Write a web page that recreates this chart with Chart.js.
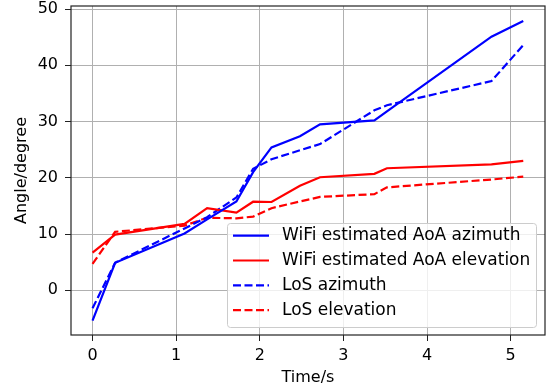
<!DOCTYPE html>
<html>
<head>
<meta charset="utf-8">
<script src="https://cdn.jsdelivr.net/npm/chart.js@4.4.1/dist/chart.umd.min.js"></script>
<style>
  html, body { margin: 0; padding: 0; background: #fff; }
  #chart { display: block; }
</style>
</head>
<body>
<canvas id="chart" width="553" height="392"></canvas>
<script>
// Datos
const timeS = [0, 0.27, 1.1, 1.37, 1.72, 1.92, 2.14, 2.48, 2.72, 3.37, 3.52, 4.77, 5.15];
const wifiAzimuth = [-5.4, 4.9, 10.1, 12.6, 15.8, 21.0, 25.4, 27.4, 29.5, 30.2, 31.8, 45.1, 47.9];
const wifiElevation = [6.7, 9.9, 11.8, 14.6, 13.8, 15.75, 15.7, 18.6, 20.1, 20.7, 21.7, 22.4, 23.0];
const losAzimuth = [-3.2, 4.9, 11.0, 13.0, 16.5, 21.6, 23.3, 24.9, 26.0, 32.0, 32.9, 37.2, 43.6];
const losElevation = [4.7, 10.4, 11.5, 12.9, 12.8, 13.1, 14.6, 15.8, 16.6, 17.1, 18.3, 19.7, 20.2];
const xTicks = [0, 1, 2, 3, 4, 5];
const yTicks = [0, 10, 20, 30, 40, 50];

const FONT = 'DejaVu Sans';

function toPoints(values) {
    return timeS.map((t, i) => ({ x: t, y: values[i] }));
}

// Quitar el relleno automático de las escalas para fijar el área del gráfico
function fixPadding(s) {
    s.paddingTop = 0;
    s.paddingBottom = 0;
    s.paddingLeft = 0;
    s.paddingRight = 0;
}

// Marco completo + leyenda dentro del área
const framePlugin = {
    id: 'frame',
    afterDatasetsDraw(chart) {
        const { ctx, chartArea: a } = chart;
        ctx.save();
        ctx.strokeStyle = '#222';
        ctx.lineWidth = 1.2;
        ctx.strokeRect(a.left, a.top, a.right - a.left, a.bottom - a.top);

        // leyenda
        const w = 309, h = 104;
        const x0 = a.right - 9 - w;
        const y0 = a.bottom - 8 - h;
        ctx.beginPath();
        ctx.roundRect(x0 + 0.5, y0 + 0.5, w, h, 3);
        ctx.fillStyle = 'rgba(255,255,255,0.8)';
        ctx.fill();
        ctx.strokeStyle = '#cccccc';
        ctx.lineWidth = 1;
        ctx.stroke();

        ctx.font = '17px "' + FONT + '"';
        ctx.textBaseline = 'middle';
        ctx.textAlign = 'left';
        chart.data.datasets.forEach((ds, i) => {
            const cy = y0 + 12.7 + i * 24.8;
            ctx.beginPath();
            ctx.setLineDash(ds.borderDash || []);
            ctx.strokeStyle = ds.borderColor;
            ctx.lineWidth = 2.2;
            ctx.moveTo(x0 + 6, cy);
            ctx.lineTo(x0 + 42, cy);
            ctx.stroke();
            ctx.setLineDash([]);
            ctx.fillStyle = '#000';
            ctx.fillText(ds.label, x0 + 55, cy);
        });
        ctx.restore();
    }
};

const chart = new Chart(document.getElementById('chart').getContext('2d'), {
    type: 'line',
    data: {
        datasets: [
            { label: 'WiFi estimated AoA azimuth', data: toPoints(wifiAzimuth), borderColor: '#0000ff' },
            { label: 'WiFi estimated AoA elevation', data: toPoints(wifiElevation), borderColor: '#ff0000' },
            { label: 'LoS azimuth', data: toPoints(losAzimuth), borderColor: '#0000ff', borderDash: [8, 3.5] },
            { label: 'LoS elevation', data: toPoints(losElevation), borderColor: '#ff0000', borderDash: [8, 3.5] }
        ]
    },
    options: {
        responsive: false,
        animation: false,
        devicePixelRatio: 1,
        layout: { padding: { top: 6, right: 8, left: 0, bottom: 0 } },
        elements: {
            line: { borderWidth: 2.2, tension: 0, fill: false },
            point: { radius: 0 }
        },
        plugins: {
            legend: { display: false },
            tooltip: { enabled: false }
        },
        scales: {
            x: {
                type: 'linear',
                min: -0.2575,
                max: 5.41,
                afterBuildTicks: (s) => { s.ticks = xTicks.map(v => ({ value: v })); },
                afterFit: (s) => { s.height = 57; fixPadding(s); },
                grid: { color: '#b0b0b0', lineWidth: 1, tickLength: 6, tickColor: '#222' },
                border: { display: false },
                ticks: { font: { family: FONT, size: 16 }, color: '#000', padding: 5, maxRotation: 0 },
                title: { display: true, text: 'Time/s', font: { family: FONT, size: 16 }, color: '#000', padding: { top: 0, bottom: 5 } }
            },
            y: {
                min: -7.95,
                max: 50.55,
                afterBuildTicks: (s) => { s.ticks = yTicks.map(v => ({ value: v })); },
                afterFit: (s) => { s.width = 71; fixPadding(s); },
                grid: { color: '#b0b0b0', lineWidth: 1, tickLength: 6, tickColor: '#222' },
                border: { display: false },
                ticks: { font: { family: FONT, size: 16 }, color: '#000', padding: 7 },
                title: { display: true, text: 'Angle/degree', font: { family: FONT, size: 16 }, color: '#000', padding: { top: 12, bottom: 0 } }
            }
        }
    },
    plugins: [framePlugin]
});
</script>
</body>
</html>
